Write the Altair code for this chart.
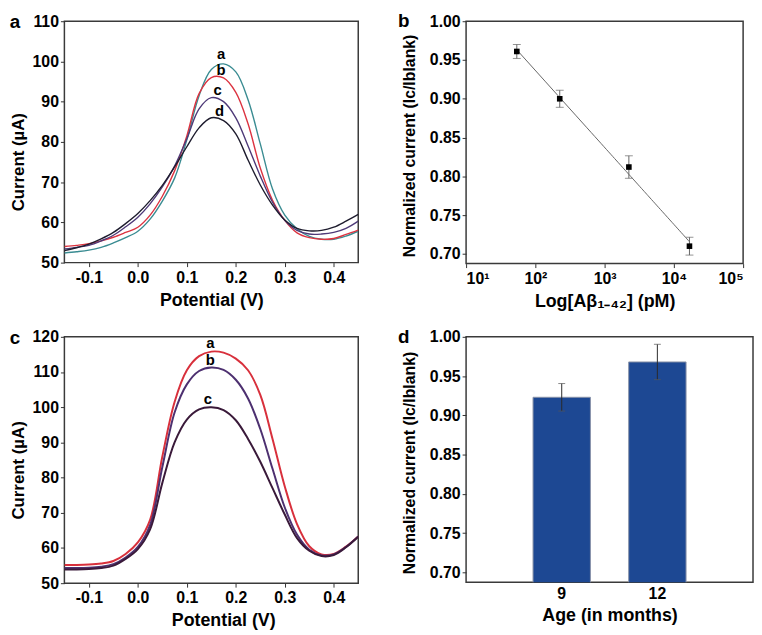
import altair as alt
import pandas as pd

FONT = "Liberation Sans"

# ---------------- data ----------------
potential = [-0.15, -0.125, -0.1, -0.075, -0.05, -0.025, 0.0, 0.025, 0.05, 0.075,
             0.1, 0.125, 0.15, 0.175, 0.2, 0.225, 0.25, 0.275, 0.3, 0.325,
             0.35, 0.375, 0.4, 0.425, 0.45]

# panel a (DPV curves a-d)
pa_a = [52.4, 52.7, 53.1, 53.8, 54.9, 56.2, 57.8, 60.8, 65.3, 71.0, 80.5, 91.5, 98.0, 99.4,
        97.4, 90.5, 79.5, 68.3, 61.8, 58.4, 56.5, 55.8, 55.8, 56.6, 57.8]
pa_b = [54.0, 54.3, 54.7, 55.4, 56.3, 57.5, 58.8, 61.8, 66.5, 72.8, 81.5, 92.0, 96.0, 95.9,
        92.3, 84.5, 73.5, 65.5, 60.5, 57.4, 56.2, 55.8, 56.0, 57.0, 58.1]
pa_c = [53.4, 53.8, 54.3, 55.4, 56.8, 58.9, 61.3, 64.6, 68.8, 74.0, 80.8, 88.2, 91.0, 90.0,
        86.0, 79.0, 71.5, 65.0, 60.5, 58.0, 57.1, 57.1, 57.5, 58.5, 60.3]
pa_d = [53.0, 53.7, 54.6, 55.9, 57.5, 59.7, 62.2, 65.4, 69.2, 73.8, 78.8, 83.5, 86.0, 85.3,
        82.0, 75.5, 69.3, 64.3, 60.6, 58.5, 57.9, 58.0, 58.8, 60.3, 62.0]
pa_names = ["a", "b", "c", "d"]
pa_colors = ["#3a8c92", "#dc3340", "#4e3a78", "#1e1c2e"]
pa_lab_x = [0.170, 0.170, 0.163, 0.167]
pa_lab_y = [101.8, 97.8, 92.9, 87.6]

# panel c (DPV curves a-c)
pc_a = [55.2, 55.2, 55.3, 55.6, 56.3, 58.3, 61.6, 68.0, 86.0, 101.5, 110.5, 114.5, 115.8, 115.5,
        113.8, 110.5, 103.5, 91.0, 77.5, 66.8, 60.5, 58.2, 58.3, 60.4, 63.3]
pc_b = [54.3, 54.3, 54.4, 54.7, 55.4, 57.3, 60.3, 66.5, 83.0, 98.5, 106.5, 110.3, 111.3, 110.6,
        107.8, 102.5, 93.8, 82.5, 71.5, 63.8, 59.5, 57.9, 58.2, 60.3, 63.3]
pc_c = [53.9, 53.9, 54.0, 54.3, 55.0, 56.9, 59.7, 65.3, 78.5, 90.0, 96.5, 99.4, 100.0, 99.2,
        96.3, 91.0, 84.5, 77.0, 69.5, 62.8, 59.2, 57.7, 58.0, 60.2, 63.2]
pc_names = ["a", "b", "c"]
pc_colors = ["#d8303c", "#4d3070", "#3a1a3a"]
pc_lab_x = [0.148, 0.148, 0.143]
pc_lab_y = [118.2, 113.4, 102.3]

# panel b (calibration)
conc_pM = [54, 225, 2240, 16800]
norm_b = [0.961, 0.900, 0.812, 0.710]
err_b = [0.009, 0.011, 0.0145, 0.0115]

# panel d (bars)
age_months = ["9", "12"]
norm_d = [0.923, 0.968]
err_d = [0.0175, 0.0225]

# ---------------- layout sizes ----------------
W_A, H_A = 297, 244
W_B, H_B = 280, 245
W_C, H_C = 297, 249
W_D, H_D = 290, 248

LBL = dict(labelFont=FONT, labelFontSize=16, labelFontWeight="bold", labelColor="black")


def minus_expr():
    return ("datum.value < 0 ? '-' + format(-datum.value, '.1f') : format(datum.value, '.1f')")


def letter_layer(letter, dx, dy):
    return alt.Chart(pd.DataFrame({"t": [letter]})).mark_text(
        font=FONT, fontSize=19, fontWeight="bold", color="black",
        align="center", baseline="middle"
    ).encode(x=alt.value(dx), y=alt.value(dy), text="t:N")


def curve_panel(series, names, colors, lab_x, lab_y, letter, w, h, ydom, yvals,
                sw, title_y_off, title_x_off):
    rows = []
    for name, col, vals in zip(names, colors, series):
        for p, v in zip(potential, vals):
            rows.append({"potential": p, "current": v, "curve": name, "col": col})
    df = pd.DataFrame(rows)
    lab = pd.DataFrame({"potential": lab_x, "current": lab_y, "curve": names})

    x = alt.X("potential:Q",
              scale=alt.Scale(domain=[-0.15, 0.45], nice=False, zero=False),
              axis=alt.Axis(values=[-0.1, 0.0, 0.1, 0.2, 0.3, 0.4], labelExpr=minus_expr(),
                            title="Potential (V)", titleX=w / 2 + title_x_off, **LBL))
    y = alt.Y("current:Q",
              scale=alt.Scale(domain=ydom, nice=False, zero=False),
              axis=alt.Axis(values=yvals, title="Current (µA)", titlePadding=5,
                            titleY=h / 2 + title_y_off, **LBL))
    lines = alt.Chart(df).mark_line(strokeWidth=sw, interpolate="catmull-rom", clip=True).encode(
        x=x, y=y,
        color=alt.Color("col:N", scale=None),
        detail="curve:N",
    )
    labels = alt.Chart(lab).mark_text(font=FONT, fontSize=15, fontWeight="bold",
                                      color="black").encode(x=x, y=y, text="curve:N")
    return alt.layer(lines, labels, letter_layer(letter, -50, 1)).properties(width=w, height=h)


panel_a = curve_panel([pa_a, pa_b, pa_c, pa_d], pa_names, pa_colors, pa_lab_x, pa_lab_y,
                      "a", W_A, H_A, [50, 110], [50, 60, 70, 80, 90, 100, 110], 1.4, 20, 0)
panel_c = curve_panel([pc_a, pc_b, pc_c], pc_names, pc_colors, pc_lab_x, pc_lab_y,
                      "c", W_C, H_C, [50, 120], [50, 60, 70, 80, 90, 100, 110, 120], 2.0, 10, 12)

# ---------------- panel b ----------------
df_b = pd.DataFrame({"conc": conc_pM, "norm": norm_b,
                     "lo": [v - e for v, e in zip(norm_b, err_b)],
                     "hi": [v + e for v, e in zip(norm_b, err_b)]})
norm_title = "Normalized current (Ic/Iblank)"
yvals_norm = [0.70, 0.75, 0.80, 0.85, 0.90, 0.95, 1.00]
xb_axis = alt.Axis(values=[10, 100, 1000, 10000, 100000],
                   labelExpr="'10' + ['⁰','¹','²','³','⁴','⁵'][round(log(datum.value)/LN10)]",
                   title="Log[Aβ₁₋₄₂] (pM)", **LBL)
xb_scale = alt.Scale(type="log", domain=[10, 100000], nice=False)
yb_scale = alt.Scale(domain=[0.6875, 1.0], nice=False, zero=False)


def yb_axis(h, off):
    return alt.Axis(values=yvals_norm, format=".2f", title=norm_title, titlePadding=12,
                    titleFontSize=16, titleY=h / 2 + off, **LBL)


XB = alt.X("conc:Q", scale=xb_scale, axis=xb_axis)
YB_AX = yb_axis(H_B, 3)
base_b = alt.Chart(df_b)
reg_b = base_b.transform_regression("conc", "norm", method="log").mark_line(
    color="#666666", strokeWidth=1).encode(x=XB, y=alt.Y("norm:Q", scale=yb_scale, axis=YB_AX))
rule_b = base_b.mark_rule(color="#666666", strokeWidth=1).encode(
    x=XB, y=alt.Y("lo:Q", scale=yb_scale, axis=YB_AX), y2="hi:Q")
cap_lo_b = base_b.mark_tick(orient="horizontal", size=8, thickness=1, color="#666666").encode(
    x=XB, y=alt.Y("lo:Q", scale=yb_scale, axis=YB_AX))
cap_hi_b = base_b.mark_tick(orient="horizontal", size=8, thickness=1, color="#666666").encode(
    x=XB, y=alt.Y("hi:Q", scale=yb_scale, axis=YB_AX))
pts_b = base_b.mark_square(size=32, color="black", opacity=1).encode(
    x=XB, y=alt.Y("norm:Q", scale=yb_scale, axis=YB_AX))
panel_b = alt.layer(reg_b, rule_b, cap_lo_b, cap_hi_b, pts_b,
                    letter_layer("b", -63, 0)).properties(width=W_B, height=H_B)

# ---------------- panel d ----------------
df_d = pd.DataFrame({"age": age_months, "norm": norm_d,
                     "lo": [v - e for v, e in zip(norm_d, err_d)],
                     "hi": [v + e for v, e in zip(norm_d, err_d)]})
XD = alt.X("age:N", sort=age_months,
           scale=alt.Scale(paddingInner=0.4, paddingOuter=0.7),
           axis=alt.Axis(labelAngle=0, ticks=False, title="Age (in months)", **LBL))
YD_AX = yb_axis(H_D, 3)
base_d = alt.Chart(df_d)
bars_d = base_d.mark_bar(clip=True, color="#1d4893", stroke="#8a93a8", strokeWidth=1).encode(
    x=XD, y=alt.Y("norm:Q", scale=yb_scale, axis=YD_AX))
rule_d = base_d.mark_rule(color="#2a2a2a", strokeWidth=1).encode(
    x=XD, y=alt.Y("lo:Q", scale=yb_scale, axis=YD_AX), y2="hi:Q")
cap_lo_d = base_d.mark_tick(orient="horizontal", size=7, thickness=1, color="#555555").encode(
    x=XD, y=alt.Y("lo:Q", scale=yb_scale, axis=YD_AX))
cap_hi_d = base_d.mark_tick(orient="horizontal", size=7, thickness=1, color="#555555").encode(
    x=XD, y=alt.Y("hi:Q", scale=yb_scale, axis=YD_AX))
panel_d = alt.layer(bars_d, rule_d, cap_lo_d, cap_hi_d,
                    letter_layer("d", -63, 0)).properties(width=W_D, height=H_D)

# ---------------- assemble ----------------
row1 = alt.hconcat(panel_a, panel_b, spacing=38)
row2 = alt.hconcat(panel_c, panel_d, spacing=38)

chart = alt.vconcat(row1, row2, spacing=16).properties(
    padding={"left": 0, "top": 0, "right": 0, "bottom": 0}
).configure_view(
    stroke="#3a3a3a", strokeWidth=1.5
).configure_axis(
    labelFont=FONT, labelFontSize=16, labelFontWeight="bold", labelColor="black",
    titleFont=FONT, titleFontWeight="bold", titleColor="black",
    tickColor="#333333", tickSize=4, domain=False, grid=False,
).configure_axisX(
    titleFontSize=18, titlePadding=6, labelPadding=3
).configure_axisY(
    titleFontSize=17, labelPadding=2
)

chart.save("out.html", embed_options={"renderer": "svg", "actions": False})
